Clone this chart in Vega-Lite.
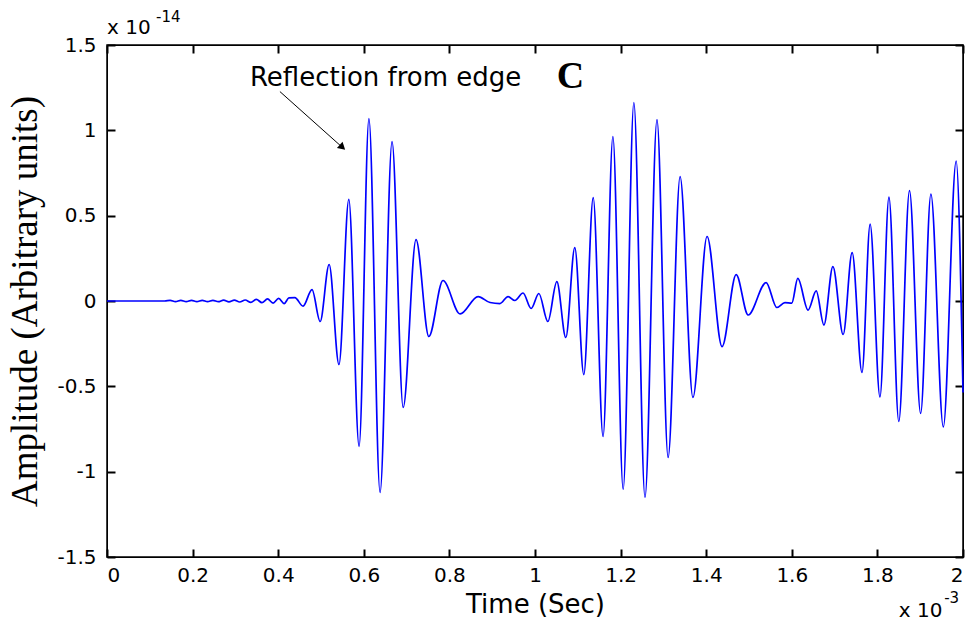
{
  "$schema": "https://vega.github.io/schema/vega-lite/v6.json",
  "width": 856,
  "height": 512,
  "autosize": {"type": "none"},
  "padding": {"left": 107, "top": 45, "right": 11, "bottom": 69},
  "background": "white",
  "config": {
    "view": {"stroke": "black", "strokeWidth": 1.5},
    "axis": {
      "domainColor": "black",
      "labelColor": "black",
      "titleColor": "black",
      "grid": false,
      "labelFont": "DejaVu Sans",
      "labelFontSize": 20,
      "titleFontWeight": "normal"
    }
  },
  "data": {
    "values": [
      {"t": 0.0, "a": 0.0},
      {"t": 0.135, "a": 0.0},
      {"t": 0.1475, "a": 0.004},
      {"t": 0.16, "a": -0.004},
      {"t": 0.1725, "a": 0.004},
      {"t": 0.185, "a": -0.004},
      {"t": 0.1975, "a": 0.004},
      {"t": 0.21, "a": -0.004},
      {"t": 0.2225, "a": 0.004},
      {"t": 0.235, "a": -0.004},
      {"t": 0.2475, "a": 0.004},
      {"t": 0.26, "a": -0.004},
      {"t": 0.2725, "a": 0.005},
      {"t": 0.285, "a": -0.005},
      {"t": 0.2975, "a": 0.005},
      {"t": 0.31, "a": -0.006},
      {"t": 0.323, "a": 0.006},
      {"t": 0.336, "a": -0.008},
      {"t": 0.349, "a": 0.01},
      {"t": 0.362, "a": -0.01},
      {"t": 0.375, "a": 0.012},
      {"t": 0.388, "a": -0.012},
      {"t": 0.401, "a": 0.015},
      {"t": 0.414, "a": -0.015},
      {"t": 0.425, "a": 0.018},
      {"t": 0.439, "a": 0.02},
      {"t": 0.458, "a": -0.03},
      {"t": 0.479, "a": 0.067},
      {"t": 0.498, "a": -0.12},
      {"t": 0.519, "a": 0.214},
      {"t": 0.542, "a": -0.372},
      {"t": 0.565, "a": 0.595},
      {"t": 0.589, "a": -0.852},
      {"t": 0.612, "a": 1.069},
      {"t": 0.638, "a": -1.122},
      {"t": 0.666, "a": 0.934},
      {"t": 0.692, "a": -0.624},
      {"t": 0.722, "a": 0.36},
      {"t": 0.752, "a": -0.208},
      {"t": 0.785, "a": 0.12},
      {"t": 0.825, "a": -0.076},
      {"t": 0.867, "a": 0.026},
      {"t": 0.895, "a": -0.009},
      {"t": 0.918, "a": -0.015},
      {"t": 0.937, "a": 0.026},
      {"t": 0.953, "a": 0.003},
      {"t": 0.972, "a": 0.047},
      {"t": 0.991, "a": -0.044},
      {"t": 1.009, "a": 0.044},
      {"t": 1.03, "a": -0.12},
      {"t": 1.051, "a": 0.114},
      {"t": 1.072, "a": -0.214},
      {"t": 1.093, "a": 0.313},
      {"t": 1.114, "a": -0.431},
      {"t": 1.136, "a": 0.606},
      {"t": 1.159, "a": -0.794},
      {"t": 1.182, "a": 0.964},
      {"t": 1.206, "a": -1.104},
      {"t": 1.231, "a": 1.163},
      {"t": 1.257, "a": -1.151},
      {"t": 1.285, "a": 1.063},
      {"t": 1.311, "a": -0.917},
      {"t": 1.339, "a": 0.729},
      {"t": 1.369, "a": -0.565},
      {"t": 1.402, "a": 0.378},
      {"t": 1.437, "a": -0.267},
      {"t": 1.47, "a": 0.155},
      {"t": 1.498, "a": -0.082},
      {"t": 1.54, "a": 0.108},
      {"t": 1.565, "a": -0.038},
      {"t": 1.584, "a": -0.009},
      {"t": 1.6, "a": -0.012},
      {"t": 1.614, "a": 0.132},
      {"t": 1.638, "a": -0.053},
      {"t": 1.657, "a": 0.059},
      {"t": 1.675, "a": -0.141},
      {"t": 1.696, "a": 0.202},
      {"t": 1.72, "a": -0.196},
      {"t": 1.741, "a": 0.284},
      {"t": 1.764, "a": -0.419},
      {"t": 1.783, "a": 0.451},
      {"t": 1.806, "a": -0.562},
      {"t": 1.827, "a": 0.609},
      {"t": 1.85, "a": -0.706},
      {"t": 1.875, "a": 0.647},
      {"t": 1.901, "a": -0.659},
      {"t": 1.925, "a": 0.627},
      {"t": 1.954, "a": -0.738},
      {"t": 1.984, "a": 0.82},
      {"t": 2.0, "a": -0.536}
    ]
  },
  "layer": [
    {
      "mark": {"type": "line", "color": "#0000ff", "strokeWidth": 1.7, "interpolate": "monotone"},
      "encoding": {
        "x": {
          "field": "t", "type": "quantitative",
          "scale": {"domain": [0, 2], "nice": false, "zero": false},
          "axis": {
            "orient": "bottom",
            "tickCount": 10,
            "labelExpr": "format(datum.value, '~g')",
            "tickSize": -8,
            "tickWidth": 2,
            "tickColor": "black",
            "labelPadding": 16,
            "title": "Time (Sec)",
            "titleFont": "DejaVu Sans",
            "titleFontSize": 26,
            "titlePadding": 6
          }
        },
        "y": {
          "field": "a", "type": "quantitative",
          "scale": {"domain": [-1.5, 1.5], "nice": false, "zero": false},
          "axis": {
            "orient": "left",
            "tickCount": 6,
            "labelExpr": "datum.value < 0 ? '-' + format(-datum.value, '~g') : format(datum.value, '~g')",
            "tickSize": -8,
            "tickWidth": 2,
            "tickColor": "black",
            "labelPadding": 19,
            "title": "Amplitude (Arbitrary units)",
            "titleFont": "Liberation Serif",
            "titleFontSize": 37,
            "titlePadding": 12
          }
        }
      }
    },
    {
      "mark": {"type": "line", "opacity": 0},
      "encoding": {
        "x": {
          "field": "t", "type": "quantitative",
          "axis": {"orient": "top", "tickCount": 10, "tickSize": -8, "tickWidth": 2, "tickColor": "black", "labels": false, "title": null}
        },
        "y": {
          "field": "a", "type": "quantitative",
          "axis": {"orient": "right", "tickCount": 6, "tickSize": -8, "tickWidth": 2, "tickColor": "black", "labels": false, "title": null}
        }
      }
    },
    {
      "data": {"values": [{}]},
      "mark": {"type": "text", "text": "Reflection from edge", "font": "DejaVu Sans", "fontSize": 26, "align": "left", "baseline": "middle", "color": "black"},
      "encoding": {
        "x": {"datum": 0.334, "type": "quantitative", "axis": null},
        "y": {"datum": 1.305, "type": "quantitative", "axis": null}
      }
    },
    {
      "data": {"values": [{}]},
      "mark": {"type": "text", "text": "C", "font": "Liberation Serif", "fontWeight": "bold", "fontSize": 38, "align": "left", "baseline": "middle", "color": "black"},
      "encoding": {
        "x": {"datum": 1.051, "type": "quantitative", "axis": null},
        "y": {"datum": 1.31, "type": "quantitative", "axis": null}
      }
    },
    {
      "data": {"values": [{}]},
      "mark": {"type": "rule", "color": "black", "strokeWidth": 1},
      "encoding": {
        "x": {"datum": 0.404, "type": "quantitative", "axis": null},
        "y": {"datum": 1.227, "type": "quantitative", "axis": null},
        "x2": {"datum": 0.55},
        "y2": {"datum": 0.9}
      }
    },
    {
      "data": {"values": [{}]},
      "mark": {"type": "point", "shape": "triangle", "filled": true, "color": "black", "size": 70, "angle": 132, "opacity": 1},
      "encoding": {
        "x": {"datum": 0.548, "type": "quantitative", "axis": null},
        "y": {"datum": 0.905, "type": "quantitative", "axis": null}
      }
    },
    {
      "data": {"values": [{}]},
      "mark": {"type": "text", "text": "x 10", "font": "DejaVu Sans", "fontSize": 20, "align": "left", "baseline": "alphabetic", "color": "black"},
      "encoding": {
        "x": {"datum": 0.0, "type": "quantitative", "axis": null},
        "y": {"datum": 1.567, "type": "quantitative", "axis": null}
      }
    },
    {
      "data": {"values": [{}]},
      "mark": {"type": "text", "text": "-14", "font": "DejaVu Sans", "fontSize": 15, "align": "left", "baseline": "alphabetic", "color": "black"},
      "encoding": {
        "x": {"datum": 0.1145, "type": "quantitative", "axis": null},
        "y": {"datum": 1.632, "type": "quantitative", "axis": null}
      }
    },
    {
      "data": {"values": [{}]},
      "mark": {"type": "text", "text": "x 10", "font": "DejaVu Sans", "fontSize": 20, "align": "left", "baseline": "alphabetic", "color": "black"},
      "encoding": {
        "x": {"datum": 1.85, "type": "quantitative", "axis": null},
        "y": {"datum": -1.854, "type": "quantitative", "axis": null}
      }
    },
    {
      "data": {"values": [{}]},
      "mark": {"type": "text", "text": "-3", "font": "DejaVu Sans", "fontSize": 15, "align": "left", "baseline": "alphabetic", "color": "black"},
      "encoding": {
        "x": {"datum": 1.956, "type": "quantitative", "axis": null},
        "y": {"datum": -1.772, "type": "quantitative", "axis": null}
      }
    }
  ],
  "resolve": {"axis": {"x": "independent", "y": "independent"}}
}
